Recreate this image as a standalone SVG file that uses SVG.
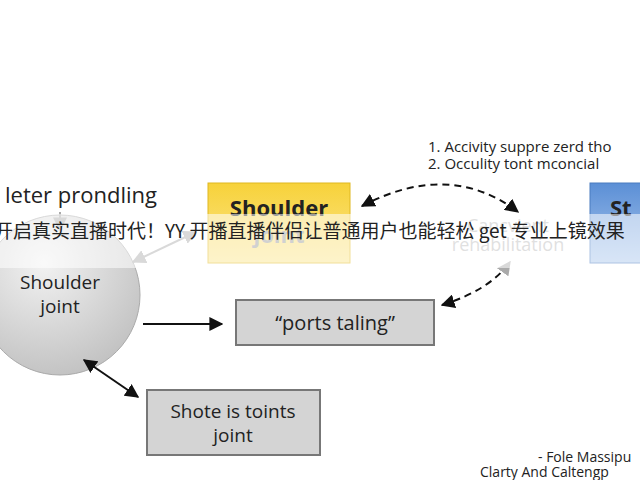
<svg xmlns="http://www.w3.org/2000/svg" width="640" height="480" viewBox="0 0 640 480">
<defs>
<style>
.t{font-family:"Open Sans","Liberation Sans",sans-serif;fill:#222}
.b{font-weight:bold}
.box{fill:#d4d4d4;stroke:#777;stroke-width:2}
</style>
<linearGradient id="y" x1="0" y1="0" x2="0" y2="1"><stop offset="0" stop-color="#f7d23a"/><stop offset="1" stop-color="#fbe58a"/></linearGradient>
<linearGradient id="bl" x1="0" y1="0" x2="0" y2="1"><stop offset="0" stop-color="#5b8fd6"/><stop offset="1" stop-color="#a9c6ec"/></linearGradient>
<radialGradient id="c" cx="0.4" cy="0.3" r="0.8"><stop offset="0" stop-color="#f2f2f2"/><stop offset="1" stop-color="#bdbdbd"/></radialGradient>
<marker id="ak" viewBox="0 0 10 10" refX="9" refY="5" markerWidth="7" markerHeight="7" orient="auto-start-reverse"><path d="M0 0L10 5L0 10z" fill="#111"/></marker>
<marker id="ag" viewBox="0 0 10 10" refX="9" refY="5" markerWidth="7" markerHeight="7" orient="auto-start-reverse"><path d="M0 0L10 5L0 10z" fill="#aaa"/></marker>
</defs>
<rect width="640" height="480" fill="#fff"/>
<text class="t" x="5" y="203" font-size="22">leter prondling</text>
<text class="t" x="428" y="152" font-size="15">1. Accivity suppre zerd tho</text>
<text class="t" x="428" y="169" font-size="15">2. Occulity tont mconcial</text>
<g id="yellow"><rect x="208" y="183" width="142" height="80" fill="url(#y)" stroke="#e0b820"/>
<text class="t b" x="279" y="216" font-size="22" text-anchor="middle">Shoulder</text>
<text class="t b" x="279" y="243" font-size="22" text-anchor="middle" style="fill:#999">joint</text></g>
<g id="blue"><rect x="590" y="183" width="60" height="80" fill="url(#bl)" stroke="#4a7cc0"/>
<text class="t b" x="610" y="216" font-size="22">St</text></g>
<g id="rehab"><text class="t" x="508" y="232" font-size="18" text-anchor="middle" style="fill:#bbb">Cancvient</text>
<text class="t" x="508" y="251" font-size="18" text-anchor="middle" style="fill:#bbb">rehabilitation</text></g>
<g id="circle"><circle cx="60" cy="295" r="80" fill="url(#c)" stroke="#aaa"/>
<text class="t" x="60" y="289" font-size="19" text-anchor="middle">Shoulder</text>
<text class="t" x="60" y="313" font-size="19" text-anchor="middle">joint</text></g>
<g id="ports"><rect class="box" x="236" y="300" width="198" height="45"/>
<text class="t" x="335" y="330" font-size="20" text-anchor="middle">“ports taling”</text></g>
<g id="shote"><rect class="box" x="147" y="390" width="173" height="65"/>
<text class="t" x="233" y="418" font-size="19" text-anchor="middle">Shote is toints</text>
<text class="t" x="233" y="442" font-size="19" text-anchor="middle">joint</text></g>
<g id="connectors" fill="none">
<path d="M60 212V230" stroke="#aaa" stroke-width="2" marker-end="url(#ag)"/>
<path d="M133 262L196 232" stroke="#aaa" stroke-width="2" marker-start="url(#ag)" marker-end="url(#ag)"/>
<path d="M362 206Q450 160 518 212" stroke="#111" stroke-width="2" stroke-dasharray="7 5" marker-start="url(#ak)" marker-end="url(#ak)"/>
<path d="M442 305Q490 290 510 262" stroke="#111" stroke-width="2" stroke-dasharray="7 5" marker-start="url(#ak)" marker-end="url(#ag)"/>
<path d="M143 324H222" stroke="#111" stroke-width="2" marker-end="url(#ak)"/>
<path d="M84 360L138 397" stroke="#111" stroke-width="2" marker-start="url(#ak)" marker-end="url(#ak)"/>
</g>
<text class="t" x="538" y="462" font-size="14">- Fole Massipu</text>
<text class="t" x="480" y="477" font-size="14">Clarty And Caltengp</text>
<rect x="0" y="214" width="640" height="54" fill="#fff" opacity="0.55"/>
<text x="-6" y="238" font-size="19" fill="#222" font-family="'Noto Sans CJK SC',sans-serif">开启真实直播时代！YY 开播直播伴侣让普通用户也能轻松 get 专业上镜效果</text>
</svg>
